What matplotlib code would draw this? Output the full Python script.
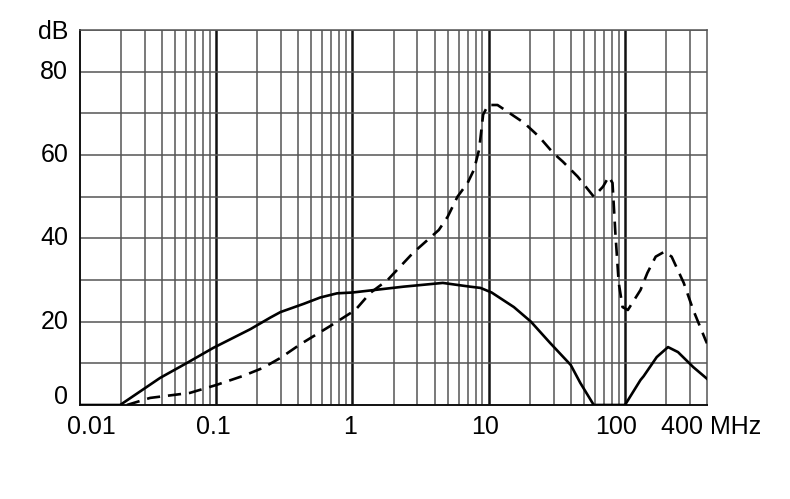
import numpy as np
import matplotlib
matplotlib.use("Agg")
import matplotlib.pyplot as plt

plt.rcParams['font.family'] = ['Liberation Sans', 'DejaVu Sans']

# solid curve (MHz, dB)
solid_f = [0.01, 0.0197, 0.0387, 0.061, 0.095, 0.178, 0.25, 0.296, 0.44, 0.58, 0.77, 1.0,
           2.37, 4.6, 7.3, 8.7, 10.5, 15.3, 20.4, 28.2, 40, 47, 59, 100, 130, 137,
           171, 207, 245, 317, 400]
solid_db = [0, 0, 6.5, 10.1, 13.7, 18.2, 21, 22.3, 24.3, 25.8, 26.8, 27,
            28.4, 29.3, 28.4, 28.1, 27, 23.5, 20, 14.9, 9.6, 5.3, 0, 0, 6, 6.9,
            11.5, 13.9, 12.7, 9.1, 6.3]

# dashed curve (MHz, dB)
dash_f = [0.0221, 0.0327, 0.064, 0.1, 0.158, 0.22, 0.296, 0.415, 0.69, 0.86, 1.05, 1.35,
          1.81, 2.78, 4.3, 5.0, 5.9, 7.0, 7.8, 8.5, 9.1, 9.9, 11.6, 18.2, 23.4, 29.7,
          35, 45, 59, 69, 76, 81, 85, 90, 96, 105, 130, 146, 168, 195, 220, 270, 317,
          390, 400]
dash_db = [0, 1.7, 2.9, 4.8, 7.0, 8.9, 11.3, 14.6, 19.0, 21.0, 22.8, 26.9,
           30, 36.5, 42, 45.2, 50, 53.3, 56.5, 61.3, 69.7, 72, 72, 67.7, 64.4, 60.5,
           58.4, 54.8, 50, 52.4, 54.8, 53.3, 41.3, 29.3, 23.5, 22.8, 27.6, 31.7, 35.6,
           36.8, 35.6, 29.3, 22.8, 15.6, 14.8]

x_ticks = [0.01, 0.1, 1, 10, 100, 400]
x_labels = ['0.01', '0.1', '1', '10', '100', '400 MHz']
y_ticks = [0, 20, 40, 60, 80, 90]
y_labels = ['0', '20', '40', '60', '80', 'dB']

fig = plt.figure(figsize=(7.9, 4.99), dpi=100)
ax = fig.add_axes([80 / 790, 1 - 405 / 499, 627 / 790, 375 / 499])

ax.set_xscale('log')
ax.set_xlim(0.01, 400)
ax.set_ylim(0, 90)

# grid
for dec in [0.01, 0.1, 1, 10, 100]:
    for k in range(2, 10):
        f = dec * k
        if f < 400:
            ax.axvline(f, color='#555555', lw=1.1, zorder=1)
for f in [0.1, 1, 10, 100]:
    ax.axvline(f, color='#111111', lw=1.8, zorder=1)
for y in range(10, 91, 10):
    ax.axhline(y, color='#555555', lw=1.1, zorder=1)

ax.plot(solid_f, solid_db, color='black', lw=1.9, zorder=3,
        solid_joinstyle='round')
ax.plot(dash_f, dash_db, color='black', lw=1.9, dashes=(5, 3), zorder=3,
        dash_joinstyle='round')

for s in ['left', 'bottom']:
    ax.spines[s].set_color('#111111')
    ax.spines[s].set_linewidth(1.4)
for s in ['top', 'right']:
    ax.spines[s].set_color('#555555')
    ax.spines[s].set_linewidth(1.1)

ax.set_xticks([])
ax.set_yticks([])
ax.minorticks_off()

# tick labels, nudged the way the original drawing has them
x_nudge = [8, -2, -2, -3, -6.5, 3]
for xv, lab, dx in zip(x_ticks, x_labels, x_nudge):
    ax.annotate(lab, xy=(xv, 0), xycoords=('data', 'axes fraction'),
                xytext=(dx, -16), textcoords='offset points',
                ha='center', va='center', fontsize=18)
y_nudge = [6, 0, 0, 0, 0, -1.5]
for yv, lab, dy in zip(y_ticks, y_labels, y_nudge):
    ax.annotate(lab, xy=(0, yv), xycoords=('axes fraction', 'data'),
                xytext=(-8.5, dy), textcoords='offset points',
                ha='right', va='center', fontsize=18)

fig.savefig('out.png', dpi=100)
